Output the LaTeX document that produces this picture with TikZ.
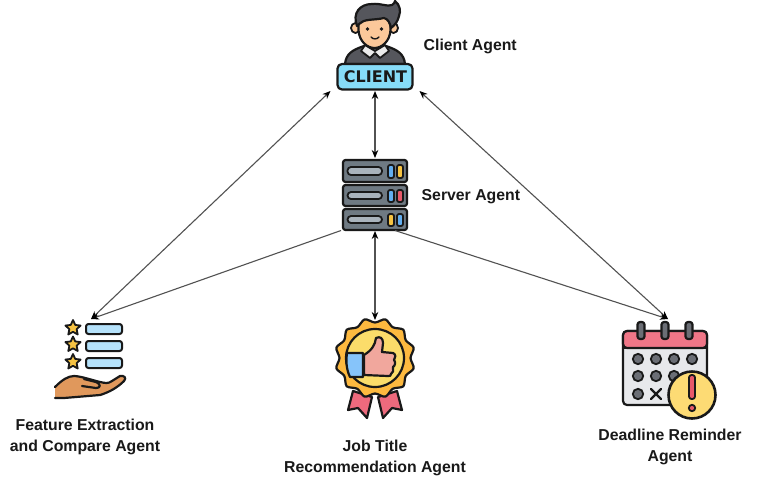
\documentclass[tikz,border=0pt]{standalone}
\usepackage{fontspec}
\setmainfont{Liberation Sans}
\newfontfamily\badgefont[Scale=1]{DejaVu Sans Bold}
\usetikzlibrary{arrows.meta}
\definecolor{hairc}{HTML}{55565C}
\definecolor{skinc}{HTML}{FBC89A}
\definecolor{cyanc}{HTML}{86DCF8}
\definecolor{rackc}{HTML}{6F7A83}
\definecolor{slotc}{HTML}{A9B3BC}
\definecolor{ledb}{HTML}{63AEEF}
\definecolor{ledy}{HTML}{F6C343}
\definecolor{ledr}{HTML}{E8596A}
\definecolor{barc}{HTML}{B5E2FB}
\definecolor{handc}{HTML}{E0985C}
\definecolor{sealc}{HTML}{FDB93F}
\definecolor{seali}{HTML}{FBDC6A}
\definecolor{ribc}{HTML}{EE6A7D}
\definecolor{pinkc}{HTML}{F1A79D}
\definecolor{sleevec}{HTML}{86C4FA}
\definecolor{calb}{HTML}{E7E8EB}
\definecolor{dotc}{HTML}{6B6E75}
\definecolor{alertc}{HTML}{FDDB74}
\tikzset{
  iconbox/.style={inner sep=0pt,outer sep=0pt},
  lab/.style={font=\fontsize{15.8}{21}\selectfont\bfseries,align=center,inner sep=0pt,text=black!90},
  ol/.style={draw=black!90,line width=2.2pt,line join=round,line cap=round},
  thin ol/.style={draw=black!90,line width=1.8pt,line join=round,line cap=round},
  conn/.style={draw=black!68,line width=1.1pt},
  tipA/.style={-{Stealth[length=8pt,width=6.5pt,black]}},
  tipB/.style={{Stealth[length=8pt,width=6.5pt,black]}-{Stealth[length=8pt,width=6.5pt,black]}},
  rack/.style={ol,fill=rackc,rounded corners=2.5pt},
  slot/.style={thin ol,fill=slotc,rounded corners=3.5pt},
  led/.style={thin ol,rounded corners=2pt},
  calring/.style={ol,fill=dotc,rounded corners=2.5pt},
  caldot/.style={thin ol,fill=dotc},
}
\newcommand{\fivestar}[2]{%
  \path[fill=ledy,thin ol] plot[samples at={90,126,...,414}] ({#1+(mod(round(\x-90),72)==0 ? 8 : 3.8)*cos(\x)},{#2-(mod(round(\x-90),72)==0 ? 8 : 3.8)*sin(\x)}) -- cycle;}
\begin{document}
\begin{tikzpicture}[x=1pt,y=-1pt]
\useasboundingbox[fill=white] (0,0) rectangle (770,491);

% icon boxes (anchors used by the connectors)
\node[iconbox,minimum width=89pt,minimum height=92pt] (client) at (375,45) {};
\node[iconbox,minimum width=66pt,minimum height=73pt] (server) at (375,194.5) {};
\node[iconbox,minimum width=72pt,minimum height=80pt] (feature) at (91,359) {};
\node[iconbox,minimum width=80pt,minimum height=100pt] (job) at (375,370) {};
\node[iconbox,minimum width=90pt,minimum height=92pt] (deadline) at (668,365) {};
\coordinate (serverleft) at (341,230.5);
\coordinate (serverright) at (395,230.5);

% client icon
\path[ol,fill=hairc] (345,64) .. controls (346,54) and (352,50) .. (364,46) -- (386,46) .. controls (398,50) and (404,54) .. (405,64) -- cycle;
\path[thin ol,fill=white!92!black] (365,45) -- (375,51) -- (385,45) -- (389,51) -- (380,58) -- (375,53) -- (370,58) -- (361,51) -- cycle;
\path[thin ol,fill=skinc] (355.5,28) circle[x radius=4.5pt,y radius=5pt];
\path[thin ol,fill=skinc] (393.5,28) circle[x radius=4.5pt,y radius=5pt];
\path[ol,fill=skinc] (358.5,18) -- (358.5,30) .. controls (359,41) and (367,48) .. (374.5,48) .. controls (382,48) and (390,41) .. (390.5,30) -- (390.5,16) -- cycle;
\path[ol,fill=hairc] (357,26) .. controls (352,13) and (360,4) .. (372,4) .. controls (380,3) and (388,7) .. (392,5) .. controls (394,4) and (395,2) .. (395,1) .. controls (400,5) and (401,11) .. (399,16) .. controls (398,21) and (395,25) .. (391,28) .. controls (390,23) and (388,19) .. (384,18) .. controls (376,20) and (366,19) .. (362,22) .. controls (360,23) and (358,25) .. (357,26) -- cycle;
\fill[black!90] (367.5,29) circle[radius=1.8pt] (381.5,29) circle[radius=1.8pt];
\draw[black!90,line width=1.4pt,line cap=round] (371,37) .. controls (373,39.5) and (377,39.5) .. (379,37);
\path[ol,fill=cyanc,rounded corners=4.5pt] (337.5,64) rectangle (412.5,89.5);
\node[inner sep=0pt,font=\fontsize{16}{18}\selectfont\badgefont,text=black!90] (clienttext) at (375.5,76.5) {CLIENT};

% server icon
\foreach \ya/\yb/\ca/\cb in {160/182/ledb/ledy,185/206/ledb/ledr,209/230/ledy/ledb}{
  \path[rack] (343,\ya) rectangle (407,\yb);
  \path[slot] (347.5,\ya+7) rectangle (382,\yb-7);
  \path[led,fill=\ca] (388,\ya+5) rectangle (394,\yb-4);
  \path[led,fill=\cb] (397,\ya+5) rectangle (403,\yb-4);
}

% feature icon
\fivestar{73}{328}
\fivestar{73}{344.5}
\fivestar{73}{362}
\foreach \ya in {324,341,358}{
  \path[thin ol,line width=2pt,fill=barc,rounded corners=2.5pt] (86,\ya) rectangle (122,\ya+10);
}
\path[ol,fill=handc] (55,387) .. controls (62,380) and (68,376) .. (74,376) .. controls (80,376) and (92,380) .. (100,382) .. controls (105,383) and (108,384) .. (112,381) -- (120,376) .. controls (124,375) and (127,378) .. (124,381) .. controls (118,387) and (110,392) .. (100,395) -- (64,398) -- (55,398);
\draw[ol] (84,379) -- (96,382) .. controls (102,385) and (100,388) .. (96,388) -- (82,386);

% job icon
\path[ol,fill=ribc] (353,391) -- (348,410) -- (358,408) -- (367,418) -- (372,397) -- cycle;
\path[ol,fill=ribc] (397,391) -- (402,410) -- (392,408) -- (383,418) -- (378,397) -- cycle;
\path[ol,fill=sealc] plot[smooth cycle,samples at={0,15,...,345}] ({375+(mod(\x,30)==0 ? 40 : 35.5)*cos(\x+15)},{358+(mod(\x,30)==0 ? 40 : 35.5)*sin(\x+15)});
\path[ol,fill=seali] (375,358) circle[radius=29pt];
\path[ol,fill=sleevec] (347,353) -- (363,353) -- (363,377) -- (350,377) .. controls (346,369) and (346,360) .. (347,353) -- cycle;
\path[ol,fill=pinkc] (364,355) .. controls (372,350) and (375,345) .. (376,338) .. controls (380,336) and (383,338) .. (383,343) -- (382,352) -- (393,353) .. controls (396,354) and (396,358) .. (394,360) .. controls (396,362) and (395,366) .. (393,367) .. controls (394,370) and (393,373) .. (391,374) .. controls (391,376) and (390,376) .. (388,376) -- (364,375) -- cycle;

% deadline icon
\path[ol,fill=calb,rounded corners=4pt] (623,331) rectangle (707,405);
\path[ol,fill=ribc!92!white,rounded corners=4pt] (623,348) -- (623,331) -- (707,331) -- (707,348) -- cycle;
\draw[ol] (623,348) -- (707,348);
\foreach \xx in {641,665,689}{
  \path[calring] (\xx-3.5,322) rectangle (\xx+3.5,339);
}
\foreach \xx in {638,656,674,692}{
  \path[caldot] (\xx,359) circle[radius=5.2pt];
}
\foreach \xx in {638,656,674}{
  \path[caldot] (\xx,376) circle[radius=5.2pt];
}
\path[caldot] (638,394) circle[radius=5.2pt];
\draw[ol] (651,389) -- (661,399) (661,389) -- (651,399);
\path[ol,line width=2.6pt,fill=alertc] (692,395) circle[radius=23.5pt];
\path[thin ol,fill=ledr,rounded corners=2.5pt] (689,375) rectangle (695,399);
\path[thin ol,fill=ledr] (692,408) circle[radius=3.2pt];

% connectors
\draw[conn,tipB] (server.north) -- (client.south);
\draw[conn,tipB] (job.north) -- (server.south);
\draw[conn,tipB] (feature.north) -- (client.south west);
\draw[conn,tipB] (deadline.north) -- (client.south east);
\draw[conn,tipA] (serverleft) -- (feature.north);
\draw[conn,tipA] (serverright) -- (deadline.north);

% labels
\node[lab,anchor=west] (clientlab) at (423.5,46.5) {Client Agent};
\node[lab,anchor=west] (serverlab) at (421.5,196.5) {Server Agent};
\node[lab] (featurelab) at (85,436.5) {Feature Extraction\\and Compare Agent};
\node[lab] (joblab) at (375,457.5) {Job Title\\Recommendation Agent};
\node[lab] (deadlinelab) at (670,446.5) {Deadline Reminder\\Agent};
\end{tikzpicture}
\end{document}
